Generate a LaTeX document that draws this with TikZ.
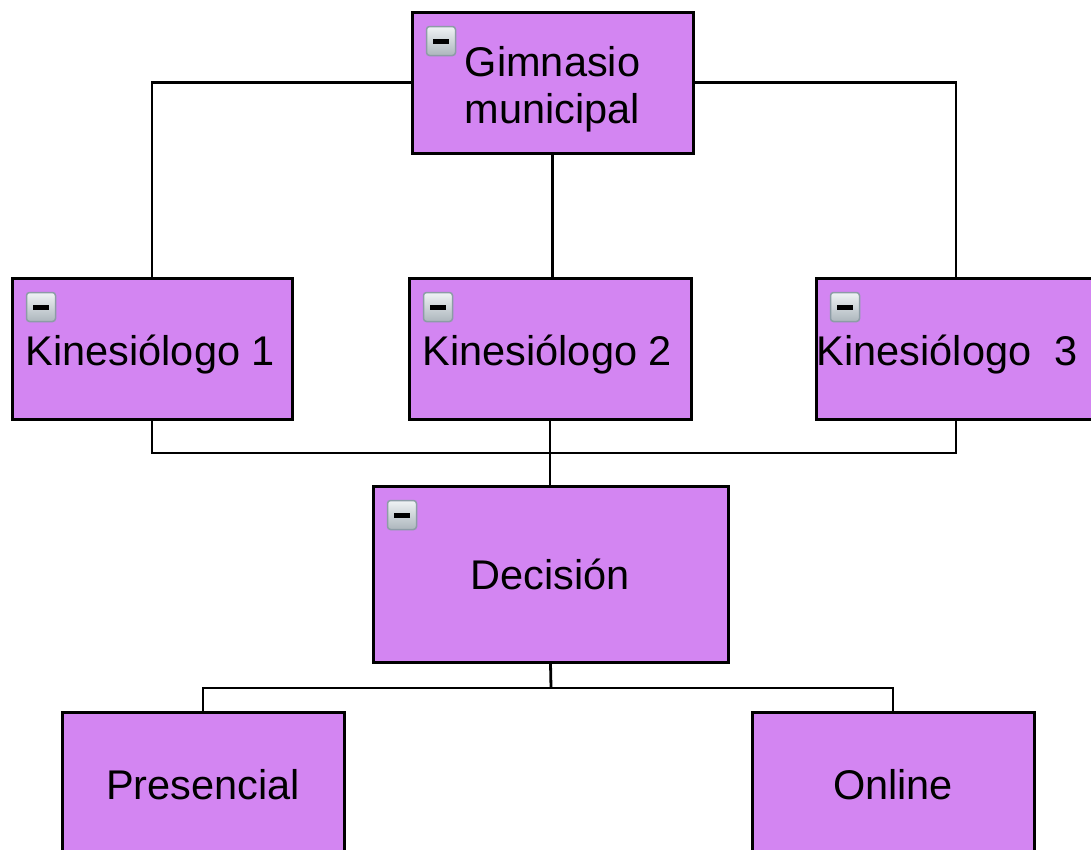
\documentclass[tikz,border=0pt]{standalone}
\usepackage{fontspec}
\setmainfont{Liberation Sans}

% Colours of the chart
\definecolor{r211g133b242}{RGB}{211,133,242}
\definecolor{r240g243b245}{RGB}{240,243,245}
\definecolor{r172g182b188}{RGB}{172,182,188}
\definecolor{r140g156b166}{RGB}{140,156,166}

\tikzset{
  chartbox/.style={draw=black, fill=r211g133b242, line width=3pt, inner sep=0pt,
                   font=\fontsize{41.5}{47}\selectfont},
  boxtext/.style={inner sep=0pt, font=\fontsize{41.5}{47}\selectfont},
  wire/.style={line width=2.8pt}
}

% Collapse button in the upper left corner of a box
\newcommand{\minusicon}[1]{%
  \shade [top color=r240g243b245, bottom color=r172g182b188, draw=r140g156b166,
          line width=1.5pt, rounded corners=3pt] ([shift={(16,16)}]#1) rectangle ++(29,29);%
  \fill [black] ([shift={(22.5,28.5)}]#1) rectangle ++(16,5);%
}

\begin{document}
\begin{tikzpicture}[x=1pt, y=-1pt]
  \useasboundingbox (0,0) rectangle (1091,849);
  \clip (0,0) rectangle (1091,849);

  % Drawing box Gimnasio municipal
  \node [chartbox, minimum width=281pt, minimum height=141pt] (gym) at (552.5,82.5) {};
  \node [boxtext, align=center] (gymtext) at ([shift={(0,7)}]gym.center) {Gimnasio\\municipal};
  \minusicon{gym.north west}

  % Drawing boxes Kinesiologo 1, 2, 3
  \node [chartbox, minimum width=280pt, minimum height=141pt] (kin1) at (152,348.5) {};
  \node [chartbox, minimum width=282pt, minimum height=141pt] (kin2) at (550,348.5) {};
  \node [chartbox, minimum width=280pt, minimum height=141pt] (kin3) at (956,348.5) {};
  \node [boxtext, anchor=base west] (kin1text) at ([shift={(15,89)}]kin1.north west) {Kinesiólogo 1};
  \node [boxtext, anchor=base west] (kin2text) at ([shift={(15,89)}]kin2.north west) {Kinesiólogo 2};
  \node [boxtext, anchor=base west] (kin3text) at ([shift={(2,89)}]kin3.north west) {Kinesiólogo \ 3};
  \minusicon{kin1.north west}
  \minusicon{kin2.north west}
  \minusicon{kin3.north west}

  % Drawing box Decision
  \node [chartbox, minimum width=355pt, minimum height=176pt] (dec) at (550.5,574) {Decisión};
  \minusicon{dec.north west}

  % Drawing boxes Presencial and Online
  \node [chartbox, minimum width=282pt, minimum height=146pt] (pres) at (203,785) {Presencial};
  \node [chartbox, minimum width=282pt, minimum height=146pt] (onl) at (893,785) {Online};

  % Drawing lines between the boxes
  \coordinate (kinbus) at (551,453);
  \coordinate (decbus) at (551,688);
  \draw [wire] (kin1.north) |- (gym.west);
  \draw [wire] (kin3.north) |- (gym.east);
  \draw [wire] (gym.south) -- (gym.south |- kin2.north);
  \draw [wire] (kin1.south) |- (kinbus) -| (kin3.south);
  \draw [wire] (kin2.south) -- (kin2.south |- dec.north);
  \draw [wire] (dec.south) -- (decbus);
  \draw [wire] (pres.north) |- (decbus) -| (onl.north);
\end{tikzpicture}
\end{document}
